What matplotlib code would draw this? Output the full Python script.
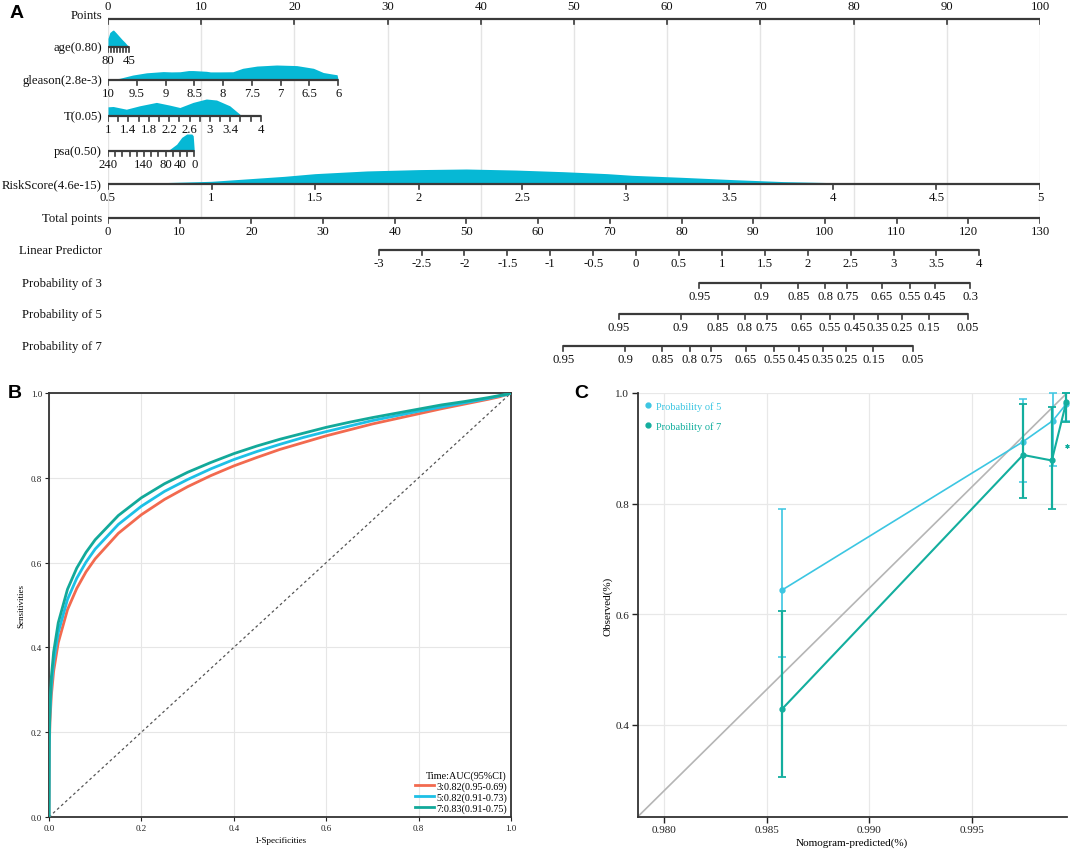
import numpy as np
import matplotlib
matplotlib.use("Agg")
import matplotlib.pyplot as plt
from matplotlib.lines import Line2D

W, H = 1072, 854
SERIF = ["Liberation Serif", "DejaVu Serif"]
SANS = ["Liberation Sans", "DejaVu Sans"]

# ------------------------------------------------------------------ Panel A data
row_names = ["Points", "age(0.80)", "gleason(2.8e-3)", "T(0.05)", "psa(0.50)",
             "RiskScore(4.6e-15)", "Total points", "Linear Predictor",
             "Probability of 3", "Probability of 5", "Probability of 7"]

points_ticks = [0, 10, 20, 30, 40, 50, 60, 70, 80, 90, 100]
age_ticks = [80, 75, 70, 65, 60, 55, 50, 45]
age_labels = [80, 45]
gleason_ticks = [10, 9.5, 9, 8.5, 8, 7.5, 7, 6.5, 6]
T_ticks = [1.0, 1.2, 1.4, 1.6, 1.8, 2.0, 2.2, 2.4, 2.6, 2.8, 3.0, 3.2, 3.4, 3.6, 3.8, 4.0]
T_labels = [1, 1.4, 1.8, 2.2, 2.6, 3, 3.4, 4]
psa_ticks = [240, 220, 200, 180, 160, 140, 120, 100, 80, 60, 40, 20, 0]
psa_labels = [240, 140, 80, 40, 0]
risk_ticks = [0.5, 1, 1.5, 2, 2.5, 3, 3.5, 4, 4.5, 5]
total_ticks = [0, 10, 20, 30, 40, 50, 60, 70, 80, 90, 100, 110, 120, 130]
lp_ticks = [-3, -2.5, -2, -1.5, -1, -0.5, 0, 0.5, 1, 1.5, 2, 2.5, 3, 3.5, 4]
prob3_ticks = [0.95, 0.9, 0.85, 0.8, 0.75, 0.65, 0.55, 0.45, 0.3]
prob5_ticks = [0.95, 0.9, 0.85, 0.8, 0.75, 0.65, 0.55, 0.45, 0.35, 0.25, 0.15, 0.05]
prob7_ticks = [0.95, 0.9, 0.85, 0.8, 0.75, 0.65, 0.55, 0.45, 0.35, 0.25, 0.15, 0.05]

# density shapes (value, relative height)
age_dens_v = [80, 77, 73, 71, 67, 62, 57, 52, 48, 45]
age_dens_h = [0.50, 0.85, 0.97, 1.00, 0.85, 0.65, 0.45, 0.27, 0.10, 0.0]
gl_dens_v = [10.0, 9.8, 9.57, 9.33, 9.04, 8.9, 8.75, 8.6, 8.52, 8.29, 8.22, 8.06,
             7.83, 7.66, 7.41, 7.07, 6.72, 6.43, 6.26, 6.09, 6.02, 6.0]
gl_dens_h = [0.04, 0.11, 0.33, 0.48, 0.56, 0.54, 0.55, 0.63, 0.63, 0.58, 0.54, 0.54,
             0.55, 0.78, 0.93, 1.00, 0.96, 0.78, 0.50, 0.39, 0.35, 0.0]
T_dens_v = [1.0, 1.1, 1.36, 1.62, 1.95, 2.21, 2.41, 2.67, 2.93, 3.13, 3.39, 3.59, 3.62]
T_dens_h = [0.54, 0.56, 0.40, 0.60, 0.80, 0.64, 0.50, 0.80, 1.00, 0.94, 0.60, 0.10, 0.0]
psa_dens_v = [90, 86, 68, 49, 35, 21, 7, 3, 0]
psa_dens_h = [0.0, 0.0, 0.10, 0.40, 0.80, 1.00, 1.00, 0.90, 0.0]
rs_dens_v = [0.5, 0.71, 1.0, 1.35, 1.5, 1.75, 2.0, 2.23, 2.47, 2.7, 2.91, 3.03,
             3.28, 3.52, 3.76, 4.0, 4.32, 4.65, 5.0]
rs_dens_h = [0.0, 0.07, 0.18, 0.51, 0.69, 0.87, 0.96, 1.00, 0.93, 0.82, 0.69, 0.58,
             0.44, 0.29, 0.16, 0.09, 0.04, 0.02, 0.0]

# nomogram scales (points contributed)
AGE_PTS_MAX = 2.28      # age 80 -> 0 pts, 45 -> 2.28
GLEASON_PTS_MAX = 24.7  # gleason 10 -> 0, 6 -> 24.7
T_PTS_MAX = 16.4        # T 1 -> 0, 4 -> 16.4
PSA_PTS_MAX = 9.26      # psa 240 -> 0, 0 -> 9.26
TOTAL_PER_POINT = 1.3   # 130 total points == 100 points
LP_TP0 = 73.66          # total points at linear predictor 0
LP_TP_SLOPE = 11.97     # total points per LP unit
LNH3, LNH5, LNH7 = -3.707, -2.769, -2.124

# ------------------------------------------------------------------ Panel B data
fpr = [0, 0.0005, 0.002, 0.005, 0.01, 0.02, 0.04, 0.06, 0.08, 0.1, 0.15, 0.2, 0.25,
       0.3, 0.35, 0.4, 0.45, 0.5, 0.55, 0.6, 0.65, 0.7, 0.75, 0.8, 0.85, 0.9, 0.95,
       0.975, 0.99, 1.0]
tpr3 = [0, 0.152, 0.223, 0.286, 0.344, 0.411, 0.489, 0.539, 0.578, 0.609, 0.669, 0.713,
        0.749, 0.779, 0.805, 0.828, 0.848, 0.867, 0.883, 0.899, 0.913, 0.927, 0.939,
        0.951, 0.963, 0.974, 0.985, 0.991, 0.996, 1.0]
tpr5 = [0, 0.166, 0.242, 0.307, 0.366, 0.435, 0.513, 0.563, 0.601, 0.632, 0.690, 0.733,
        0.768, 0.796, 0.821, 0.843, 0.862, 0.879, 0.895, 0.909, 0.922, 0.935, 0.946,
        0.957, 0.967, 0.977, 0.987, 0.993, 0.996, 1.0]
tpr7 = [0, 0.180, 0.261, 0.329, 0.389, 0.458, 0.537, 0.587, 0.624, 0.654, 0.711, 0.753,
        0.786, 0.813, 0.836, 0.857, 0.875, 0.891, 0.905, 0.919, 0.931, 0.942, 0.952,
        0.962, 0.972, 0.980, 0.989, 0.994, 0.997, 1.0]
roc_labels = ["3:0.82(0.95-0.69)", "5:0.82(0.91-0.73)", "7:0.83(0.91-0.75)"]

# ------------------------------------------------------------------ Panel C data
cal5_x = [0.98575, 0.99748, 0.99893, 0.99958]
cal5_y = [0.644, 0.912, 0.950, 0.980]
cal5_lo = [0.523, 0.840, 0.868, 0.950]
cal5_hi = [0.790, 0.990, 1.000, 1.000]
cal7_x = [0.98575, 0.99748, 0.99888, 0.99958]
cal7_y = [0.429, 0.888, 0.878, 0.983]
cal7_lo = [0.305, 0.810, 0.790, 0.948]
cal7_hi = [0.606, 0.980, 0.975, 1.000]
cal7_star_x = [0.99960]
cal7_star_y = [0.905]
C_XLIM = (0.97870, 0.99962)
C_YLIM = (0.2335, 1.0)

# ------------------------------------------------------------------ colours
FILL = "#06B8D5"
AXC = "#3a3a3a"
GRID = "#e4e4e4"
RED = "#F26A4F"
BLUE = "#1DC0E6"
TEAL = "#12A99A"
C5 = "#3CC6E2"
C7 = "#13AE9E"

fig = plt.figure(figsize=(W / 100, H / 100), dpi=100)

# ================================================================== Panel A
axA = fig.add_axes([108 / W, 1 - 370 / H, 932 / W, 370 / H])
axA.set_xlim(0, 100)
axA.set_ylim(370, 0)
axA.axis("off")

ROW_Y = [20, 48, 81, 117, 152, 185, 219, 251, 284, 315, 347]
PX_PER_PT = 9.32
TICK = 4.5
FS = 9.2


def age_pts(v):
    return (80 - np.asarray(v, float)) * AGE_PTS_MAX / 35.0


def gleason_pts(v):
    return (10 - np.asarray(v, float)) * GLEASON_PTS_MAX / 4.0


def T_pts(v):
    return (np.asarray(v, float) - 1) * T_PTS_MAX / 3.0


def psa_pts(v):
    return (240 - np.asarray(v, float)) * PSA_PTS_MAX / 240.0


def rs_pts(v):
    return (np.asarray(v, float) - 0.5) * 100.0 / 4.5


def tp_pts(v):
    return np.asarray(v, float) / TOTAL_PER_POINT


def lp_pts(v):
    return (LP_TP0 + LP_TP_SLOPE * np.asarray(v, float)) / TOTAL_PER_POINT


def prob_pts(p, lnh):
    p = np.asarray(p, float)
    return lp_pts(np.log(-np.log(p)) - lnh)


def fmt(v):
    return f"{v:g}"


# grid lines
for p in points_ticks:
    axA.plot([p, p], [ROW_Y[0], ROW_Y[6]], color=GRID, lw=1.0, zorder=0)


def draw_scale(y, tick_vals, tick_pos, label_vals, label_pos, above=False):
    tick_pos = np.atleast_1d(tick_pos)
    axA.plot([tick_pos.min(), tick_pos.max()], [y, y], color=AXC, lw=1.6,
             solid_capstyle="butt", zorder=3)
    for tp in tick_pos:
        axA.plot([tp, tp], [y, y + TICK], color=AXC, lw=1.2, zorder=3)
    off = -13 if above else 13
    for lv, lp in zip(label_vals, np.atleast_1d(label_pos)):
        axA.text(lp, y + off, fmt(lv), ha="center", va="center", fontsize=FS,
                 family=SERIF, color="#111111")


def density(y, pos, h, maxh):
    axA.fill_between(pos, y, y - np.asarray(h) * maxh, color=FILL, lw=0, zorder=2)


# row labels
for name, y in zip(row_names, ROW_Y):
    yy = y - 4 if name == "Points" else y
    axA.text(-6 / PX_PER_PT, yy, name, ha="right", va="center", fontsize=FS,
             family=SERIF, color="#111111")

draw_scale(ROW_Y[0], points_ticks, points_ticks, points_ticks, points_ticks, above=True)

density(ROW_Y[1], age_pts(age_dens_v), age_dens_h, 17)
draw_scale(ROW_Y[1], age_ticks, age_pts(age_ticks), age_labels, age_pts(age_labels))

density(ROW_Y[2], gleason_pts(gl_dens_v), gl_dens_h, 15)
draw_scale(ROW_Y[2], gleason_ticks, gleason_pts(gleason_ticks), gleason_ticks,
           gleason_pts(gleason_ticks))

density(ROW_Y[3], T_pts(T_dens_v), T_dens_h, 17)
draw_scale(ROW_Y[3], T_ticks, T_pts(T_ticks), T_labels, T_pts(T_labels))

density(ROW_Y[4], psa_pts(psa_dens_v), psa_dens_h, 17)
draw_scale(ROW_Y[4], psa_ticks, psa_pts(psa_ticks), psa_labels, psa_pts(psa_labels))

density(ROW_Y[5], rs_pts(rs_dens_v), rs_dens_h, 15)
draw_scale(ROW_Y[5], risk_ticks, rs_pts(risk_ticks), risk_ticks, rs_pts(risk_ticks))

draw_scale(ROW_Y[6], total_ticks, tp_pts(total_ticks), total_ticks, tp_pts(total_ticks))
draw_scale(ROW_Y[7], lp_ticks, lp_pts(lp_ticks), lp_ticks, lp_pts(lp_ticks))
draw_scale(ROW_Y[8], prob3_ticks, prob_pts(prob3_ticks, LNH3), prob3_ticks,
           prob_pts(prob3_ticks, LNH3))
draw_scale(ROW_Y[9], prob5_ticks, prob_pts(prob5_ticks, LNH5), prob5_ticks,
           prob_pts(prob5_ticks, LNH5))
draw_scale(ROW_Y[10], prob7_ticks, prob_pts(prob7_ticks, LNH7), prob7_ticks,
           prob_pts(prob7_ticks, LNH7))

# ================================================================== Panel B
axB = fig.add_axes([49 / W, 1 - 818 / H, 462 / W, 424 / H])
axB.set_xlim(0, 1)
axB.set_ylim(0, 1)
axB.grid(True, color="#e6e6e6", lw=0.8)
axB.set_axisbelow(True)
axB.plot([0, 1], [0, 1], ls=(0, (2.2, 2.2)), color="#555555", lw=0.9, zorder=2)
for tpr, col, lab in zip([tpr3, tpr5, tpr7], [RED, BLUE, TEAL], roc_labels):
    axB.plot(fpr, tpr, color=col, lw=2.0, label=lab, zorder=3, solid_joinstyle="round")
ticks = [0.0, 0.2, 0.4, 0.6, 0.8, 1.0]
axB.set_xticks(ticks)
axB.set_yticks(ticks)
axB.set_xticklabels([f"{t:.1f}" for t in ticks], family=SERIF)
axB.set_yticklabels([f"{t:.1f}" for t in ticks], family=SERIF)
axB.tick_params(labelsize=6.5, length=3, width=0.8, pad=2, colors="#222222")
for s in axB.spines.values():
    s.set_color("#333333")
    s.set_linewidth(1.3)
axB.set_xlabel("1-Specificities", fontsize=6.5, family=SERIF, labelpad=3)
axB.set_ylabel("Sensitivities", fontsize=6.5, family=SERIF, labelpad=4)
legB = axB.legend(loc="lower right", frameon=False, title="Time:AUC(95%CI)",
                  prop={"family": SERIF, "size": 7.3},
                  title_fontproperties={"family": SERIF, "size": 7.3},
                  handlelength=1.9, handletextpad=0.2, labelspacing=0.15,
                  borderaxespad=0.3, borderpad=0.1, alignment="right")

# ================================================================== Panel C
axC = fig.add_axes([637.5 / W, 1 - 818 / H, 429.5 / W, 424 / H])
axC.set_xlim(*C_XLIM)
axC.set_ylim(*C_YLIM)
axC.grid(True, color="#e8e8e8", lw=0.9)
axC.set_axisbelow(True)
axC.plot([C_XLIM[0], C_XLIM[1]], [C_YLIM[0], C_YLIM[1]], color="#b5b5b5", lw=1.2, zorder=1)

y5 = np.array(cal5_y)
y7 = np.array(cal7_y)
axC.errorbar(cal5_x, y5, yerr=[y5 - np.array(cal5_lo), np.array(cal5_hi) - y5],
             color=C5, lw=1.2, marker="o", ms=3.5, capsize=2.8, capthick=1.1,
             elinewidth=1.2, zorder=3, clip_on=False)
axC.errorbar(cal7_x, y7, yerr=[y7 - np.array(cal7_lo), np.array(cal7_hi) - y7],
             color=C7, lw=1.5, marker="o", ms=3.5, capsize=2.8, capthick=1.3,
             elinewidth=1.6, zorder=4, clip_on=False)
axC.plot(cal7_star_x, cal7_star_y, ls="", marker=(6, 2, 0), ms=3, color=C7,
         mew=0.8, clip_on=False, zorder=5)

axC.set_xticks([0.980, 0.985, 0.990, 0.995])
axC.set_xticklabels(["0.980", "0.985", "0.990", "0.995"], family=SERIF)
axC.set_yticks([0.4, 0.6, 0.8, 1.0])
axC.set_yticklabels(["0.4", "0.6", "0.8", "1.0"], family=SERIF)
axC.tick_params(labelsize=8, length=4, width=1.0, pad=2, colors="#222222")
for side in ["top", "right"]:
    axC.spines[side].set_visible(False)
for side in ["left", "bottom"]:
    axC.spines[side].set_color("#333333")
    axC.spines[side].set_linewidth(1.3)
axC.set_xlabel("Nomogram-predicted(%)", fontsize=8, family=SERIF, labelpad=2)
axC.set_ylabel("Observed(%)", fontsize=8, family=SERIF, labelpad=2)

hC = [Line2D([], [], ls="", marker="o", ms=3.5, color=C5),
      Line2D([], [], ls="", marker="o", ms=3.5, color=C7)]
axC.legend(hC, ["Probability of 5", "Probability of 7"], loc="upper left",
           frameon=False, prop={"family": SERIF, "size": 7.5},
           labelcolor=[C5, C7], handlelength=0.5, handletextpad=0.5,
           labelspacing=1.0, borderaxespad=0.55, borderpad=0.2)

# ================================================================== panel letters
fig.text(17 / W, 1 - 14 / H, "A", fontsize=14, fontweight="bold", family=SANS,
         ha="center", va="center")
fig.text(15 / W, 1 - 394 / H, "B", fontsize=14, fontweight="bold", family=SANS,
         ha="center", va="center")
fig.text(581 / W, 1 - 394 / H, "C", fontsize=14, fontweight="bold", family=SANS,
         ha="center", va="center")

fig.savefig("out.png", dpi=100)
